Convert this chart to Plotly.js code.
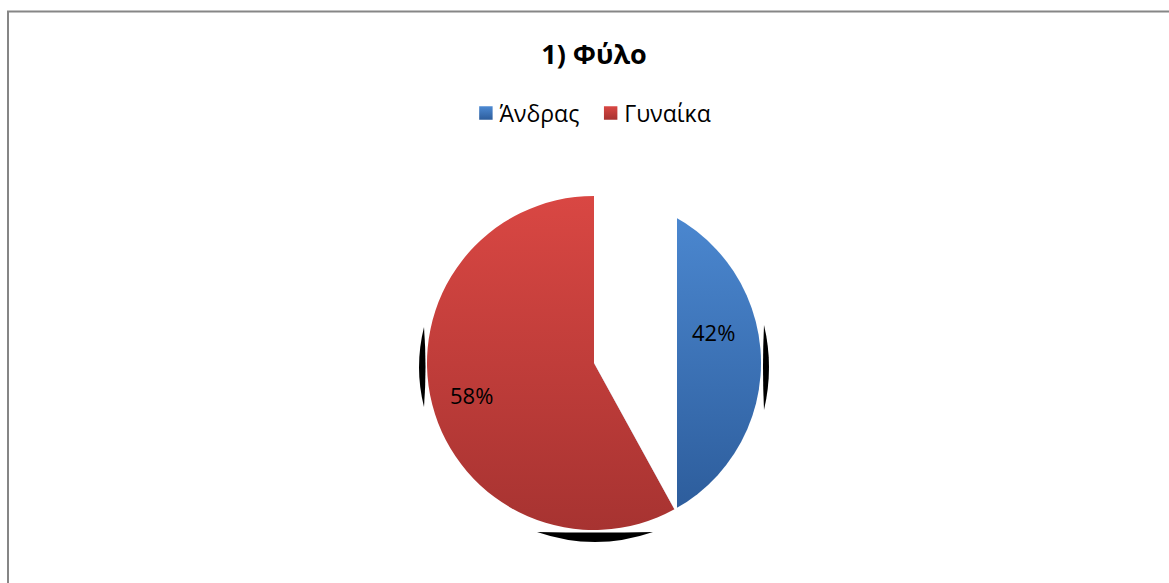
<!DOCTYPE html>
<html>
<head>
<meta charset="utf-8">
<script src="https://cdn.plot.ly/plotly-3.0.1.min.js"></script>
<style>html,body{margin:0;padding:0;background:#fff;}#chart{width:1169px;height:583px;}</style>
</head>
<body>
<div id="chart"></div>
<script>
// ---- data ----
const chartTitle = '1) Φύλο';
const categories = ['Άνδρας', 'Γυναίκα'];
const values = [42, 58];
const colors = ['#3f77bd', '#c0403d'];
const gradTop = ['#4d8ad3', '#d94743'];
const gradBottom = ['#2d5d9c', '#a73331'];

// ---- layout constants (pixels) ----
const W = 1169, H = 583;
const cx = 594, cy = 363, r = 167;
const clipX = 677;
const labelR = [0.74, 0.76];
const px = x => x / W;
const py = y => 1 - y / H;
const FONT = 'Open Sans, sans-serif';

const total = values.reduce((a, b) => a + b, 0);

// mask that hides the inner part of the first slice (as in the reference rendering)
const ang = 2 * Math.PI * values[0] / total;
const dx = Math.sin(ang), dy = -Math.cos(ang);
const ex = cx + (r + 6) * dx, ey = cy + (r + 6) * dy;
const maskPath = `M ${px(cx)},${py(cy)} L ${px(cx)},${py(cy - r - 8)} L ${px(clipX)},${py(cy - r - 8)} L ${px(clipX)},${py(ey)} L ${px(ex)},${py(ey)} Z`;

function q(cxp, cyp, x1, y1) { return `Q ${px(cxp)},${py(cyp)} ${px(x1)},${py(y1)}`; }
const shadowLeft = `M ${px(424)},${py(327)} ${q(414,367,424,407)} ${q(427,367,424,327)} Z`;
const shadowRight = `M ${px(764)},${py(325)} ${q(774,367,764,410)} ${q(762,367,764,325)} Z`;
const shadowBottom = `M ${px(537)},${py(532)} ${q(595,552,653,532)} ${q(595,533,537,532)} Z`;

// percentage labels placed on each slice's bisector
const annotations = [];
let acc = 0;
values.forEach((v, i) => {
  const mid = 2 * Math.PI * (acc + v / 2) / total;
  acc += v;
  const k = labelR[i] * r;
  annotations.push({
    xref: 'paper', yref: 'paper', showarrow: false,
    x: px(cx + k * Math.sin(mid)), y: py(cy - k * Math.cos(mid)),
    xanchor: 'center', yanchor: 'middle',
    text: Math.round(100 * v / total) + '%',
    font: { family: FONT, size: 22, color: '#000' }
  });
});

const trace = {
  type: 'pie',
  labels: categories,
  values: values,
  sort: false,
  direction: 'clockwise',
  rotation: 0,
  marker: { colors: colors, line: { width: 0 } },
  textinfo: 'none',
  hoverinfo: 'none',
  domain: { x: [px(cx - r), px(cx + r)], y: [py(cy + r), py(cy - r)] }
};

const layout = {
  width: W, height: H,
  margin: { l: 0, r: 0, t: 0, b: 0 },
  paper_bgcolor: '#fff', plot_bgcolor: '#fff',
  title: {
    text: '<b>' + chartTitle + '</b>',
    x: px(594), y: py(55), xanchor: 'center', yanchor: 'middle',
    font: { family: FONT, size: 27, color: '#000' }
  },
  showlegend: true,
  legend: {
    orientation: 'h', x: px(588), y: py(113), xanchor: 'center', yanchor: 'middle',
    font: { family: FONT, size: 23, color: '#000' },
    itemwidth: 30, traceorder: 'normal'
  },
  annotations: annotations,
  shapes: [
    { type: 'path', xref: 'paper', yref: 'paper', path: shadowLeft, fillcolor: '#000', line: { width: 0 }, layer: 'below' },
    { type: 'path', xref: 'paper', yref: 'paper', path: shadowRight, fillcolor: '#000', line: { width: 0 }, layer: 'below' },
    { type: 'path', xref: 'paper', yref: 'paper', path: shadowBottom, fillcolor: '#000', line: { width: 0 }, layer: 'below' },
    { type: 'path', xref: 'paper', yref: 'paper', path: maskPath, fillcolor: '#fff', line: { width: 0 }, layer: 'above' },
    { type: 'rect', xref: 'paper', yref: 'paper', x0: px(8), x1: px(1200), y0: py(11.5), y1: py(620),
      line: { color: '#868686', width: 2 }, fillcolor: 'rgba(0,0,0,0)', layer: 'above' }
  ]
};

Plotly.newPlot('chart', [trace], layout, { staticPlot: true, displayModeBar: false }).then(gd => {
  const svg = gd.querySelector('svg.main-svg');
  const NS = 'http://www.w3.org/2000/svg';
  let defs = svg.querySelector('defs');
  if (!defs) { defs = document.createElementNS(NS, 'defs'); svg.insertBefore(defs, svg.firstChild); }
  categories.forEach((c, i) => {
    const g = document.createElementNS(NS, 'linearGradient');
    g.setAttribute('id', 'pg' + i);
    g.setAttribute('x1', '0'); g.setAttribute('y1', '0'); g.setAttribute('x2', '0'); g.setAttribute('y2', '1');
    const s1 = document.createElementNS(NS, 'stop'); s1.setAttribute('offset', '0'); s1.setAttribute('stop-color', gradTop[i]);
    const s2 = document.createElementNS(NS, 'stop'); s2.setAttribute('offset', '1'); s2.setAttribute('stop-color', gradBottom[i]);
    g.appendChild(s1); g.appendChild(s2); defs.appendChild(g);
  });
  gd.querySelectorAll('g.slice').forEach((s, i) => {
    const p = s.querySelector('path.surface');
    if (p) p.style.fill = 'url(#pg' + (i % categories.length) + ')';
  });
  gd.querySelectorAll('g.legend g.traces').forEach((t, i) => {
    const lp = t.querySelector('.legendpoints');
    if (lp) lp.setAttribute('transform', 'translate(4,0) scale(1.12)');
    t.querySelectorAll('.legendpoints path').forEach(p => { p.style.fill = 'url(#pg' + (i % categories.length) + ')'; });
  });
});
</script>
</body>
</html>
